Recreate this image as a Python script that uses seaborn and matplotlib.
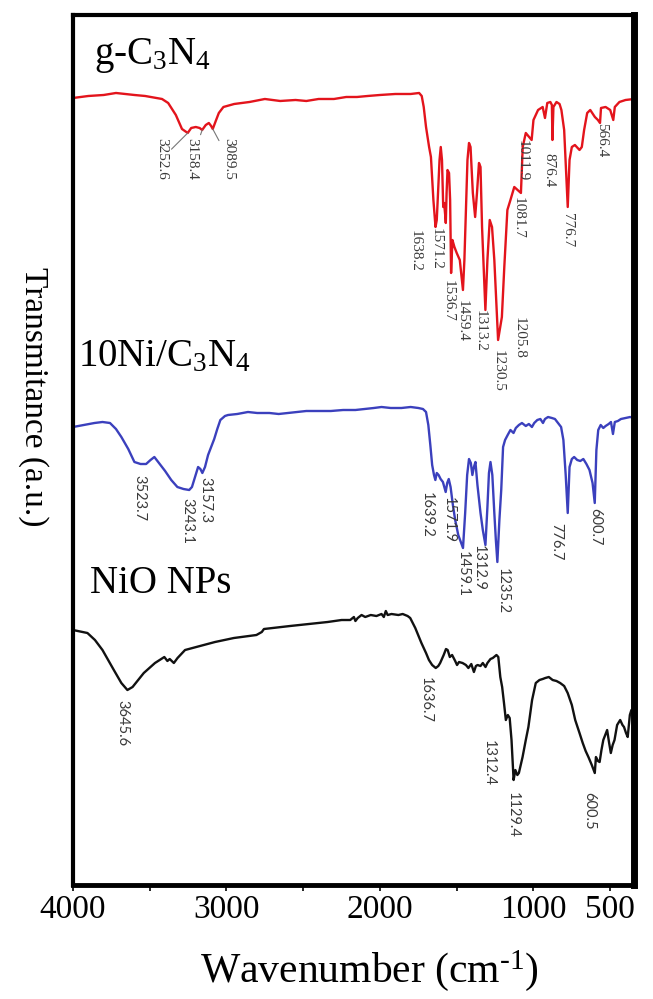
import numpy as np
import pandas as pd
import matplotlib
matplotlib.use("Agg")
import matplotlib.pyplot as plt
import seaborn as sns

# ---------------- FT-IR spectra (wavenumber in cm-1, stacked transmittance in a.u.) ----------------
WN_GCN = [4000, 3900, 3800, 3720, 3600, 3530, 3420, 3380, 3330, 3290, 3252.6, 3230, 3200, 3175,
          3158.4, 3135, 3115, 3100, 3089.5, 3070, 3050, 3020, 2950, 2850, 2750, 2650, 2550, 2480,
          2400, 2300, 2220, 2150, 2080, 2000, 1900, 1800, 1745, 1728, 1715, 1700, 1680, 1668, 1652,
          1638.2, 1630, 1620, 1612, 1604, 1596, 1588, 1582, 1578, 1574, 1571.2, 1566, 1560, 1550,
          1543, 1536.7, 1528, 1515, 1500, 1480, 1459.4, 1450, 1440, 1430, 1420, 1410, 1395, 1380,
          1368, 1355, 1345, 1335, 1313.2, 1300, 1285, 1270, 1255, 1230.5, 1205.8, 1190, 1170, 1150,
          1125, 1081.7, 1070, 1050, 1011.9, 1000, 970, 940, 925, 910, 890, 880, 876.4, 870, 850, 830,
          818, 800, 776.7, 765, 750, 730, 700, 685, 670, 650, 630, 600, 580, 566.4, 560, 530, 500,
          480, 470, 440, 400, 345]
T_GCN = [787, 789, 790, 792, 790, 789, 786, 782, 770, 756, 752, 757, 758, 757,
         755, 760, 762, 759, 756, 764, 772, 778, 781, 783, 786, 784, 785, 784,
         786, 786, 788, 788, 789, 790, 791, 791, 792, 789, 778, 758, 738, 728, 685,
         658, 665, 698, 725, 738, 725, 678, 682, 675, 668, 662, 692, 715, 712,
         685, 612, 645, 638, 632, 625, 595, 625, 675, 725, 742, 738, 692, 668,
         692, 722, 718, 658, 575, 625, 665, 658, 625, 545, 568, 618, 675, 685,
         698, 692, 738, 752, 745, 765, 775, 778, 767, 782, 783, 780, 745, 778, 783, 781,
         775, 755, 678, 725, 738, 740, 735, 738, 755, 772, 775, 768, 765, 762, 777, 778, 775,
         765, 778, 783, 785, 786]

WN_NI = [4000, 3930, 3860, 3808, 3759, 3720, 3685, 3640, 3600, 3560, 3523.7, 3495, 3470, 3440,
         3400, 3360, 3320, 3280, 3243.1, 3225, 3205, 3185, 3170, 3157.3, 3140, 3120, 3100, 3080,
         3060, 3040, 3010, 2990, 2930, 2860, 2800, 2720, 2660, 2600, 2540, 2480, 2400, 2320, 2240,
         2160, 2100, 2040, 1990, 1930, 1860, 1800, 1750, 1720, 1700, 1685, 1672, 1660, 1648,
         1639.2, 1630, 1618, 1605, 1590, 1571.9, 1562, 1552, 1540, 1525, 1510, 1490, 1459.1, 1445,
         1432, 1420, 1408, 1398, 1388, 1378, 1365, 1345, 1330, 1312.9, 1300, 1290, 1280, 1268,
         1255, 1245, 1235.2, 1222, 1210, 1198, 1185, 1168, 1150, 1130, 1115, 1095, 1075, 1050,
         1030, 1010, 995, 975, 955, 938, 925, 905, 880, 860, 840, 820, 805, 790, 776.7, 765, 750,
         735, 715, 695, 675, 655, 635, 615, 600.7, 590, 578, 562, 545, 530, 510, 495, 482, 470,
         450, 430, 400, 370, 345]
T_NI = [458, 460, 462, 463, 462, 456, 448, 436, 423, 421, 421, 425, 428, 422,
        414, 405, 398, 396, 395, 398, 408, 418, 416, 412, 418, 430, 438, 446,
        456, 465, 469, 470, 471, 473, 472, 472, 471, 472, 473, 474, 474, 474, 475,
        475, 476, 477, 478, 477, 477, 478, 477, 476, 473, 460, 440, 420, 410,
        405, 412, 410, 406, 403, 393, 402, 406, 398, 380, 365, 350, 337, 372,
        410, 426, 422, 410, 418, 423, 400, 372, 355, 340, 378, 412, 423, 410,
        372, 345, 323, 365, 395, 438, 445, 450, 455, 452, 457, 460, 462, 459,
        461, 458, 462, 465, 466, 462, 466, 468, 467, 466, 462, 458, 445, 410, 372, 418, 426,
        428, 425, 424, 426, 421, 415, 402, 382, 435, 455, 460, 457, 459, 461, 463, 451, 463,
        464, 466, 467, 468, 467]

WN_NIO = [4000, 3906, 3857, 3808, 3734, 3685, 3645.6, 3612, 3539, 3466, 3405, 3385, 3370, 3343,
          3319, 3270, 3197, 3075, 2952, 2805, 2770, 2756, 2586, 2341, 2250, 2194, 2170, 2160, 2145,
          2120, 2096, 2060, 2023, 1990, 1975, 1962, 1950, 1925, 1880, 1852, 1820, 1803, 1770, 1730,
          1700, 1681, 1660, 1636.7, 1620, 1608, 1585, 1570, 1559, 1545, 1530, 1510, 1498, 1485,
          1462, 1440, 1424, 1405, 1388, 1375, 1364, 1345, 1330, 1312.4, 1300, 1280, 1265, 1241,
          1229, 1216, 1204, 1192, 1180, 1167, 1155, 1143, 1129.4, 1118, 1105, 1095, 1071, 1050,
          1033, 1009, 985, 961, 940, 923, 900, 875, 850, 826, 800, 777, 750, 728, 700, 679, 660,
          642, 620, 600.5, 593, 580, 569, 557, 545, 520, 508, 496, 484, 472, 455, 435, 420, 410,
          397, 386, 372, 362, 345]
T_NIO = [255, 252, 245, 235, 215, 202, 195, 198, 212, 222, 228, 224, 226, 222,
         227, 235, 238, 243, 247, 250, 253, 256, 259, 263, 265, 265, 268, 264, 267,
         270, 268, 270, 269, 271, 268, 274, 270, 271, 270, 271, 269, 267, 257, 242,
         232, 225, 220, 217, 219, 222, 230, 236, 235, 228, 230, 224, 220, 223,
         222, 220, 217, 221, 213, 219, 220, 219, 222, 218, 222, 226, 227, 230,
         228, 208, 198, 182, 165, 170, 167, 145, 105, 115, 110, 112, 128, 145,
         158, 185, 202, 205, 206, 207, 208, 205, 204, 202, 199, 192, 180, 165, 152, 142, 134,
         128, 120, 112, 128, 124, 123, 135, 145, 155, 143, 132, 140, 145, 160, 165, 160, 158,
         152, 148, 170, 175, 168]

SAMPLES = ["g-C3N4", "10Ni/C3N4", "NiO NPs"]
SAMPLE_TITLES = ["g-C$_{3}$N$_{4}$", "10Ni/C$_{3}$N$_{4}$", "NiO NPs"]
COLORS = {"g-C3N4": "#e3141c", "10Ni/C3N4": "#3b40bd", "NiO NPs": "#111111"}

# Band positions marked on each spectrum (cm-1)
PEAKS_GCN = [3252.6, 3158.4, 3089.5, 1638.2, 1571.2, 1536.7, 1459.4, 1313.2, 1230.5, 1205.8,
             1081.7, 1011.9, 876.4, 776.7, 566.4]
PEAKS_NI = [3523.7, 3243.1, 3157.3, 1639.2, 1571.9, 1459.1, 1312.9, 1235.2, 776.7, 600.7]
PEAKS_NIO = [3645.6, 1636.7, 1312.4, 1129.4, 600.5]

XTICKS = [4000, 3000, 2000, 1000, 500]
XTICKS_MINOR = [3500, 2500, 1500]

# label placement relative to each band (pixels: right, down) and whether a leader line is drawn
OFFS_GCN = [(-26, 5, True), (-10, 8, True), (16, 9, True), (-20, 3, False), (-10, 5, False),
            (-3, 7, False), (-1, 10, False), (-5, 0, False), (0, 10, False), (17, 0, False),
            (-3, 4, False), (-9, 0, False), (-4, 13, False), (0, 6, False), (2, 0, False)]
OFFS_NI = [(-7, 11, False), (-2, 8, False), (3, 4, False), (-9, 12, False), (3, 5, False),
           (0, 3, False), (-7, 0, False), (5, 6, False), (-11, 10, False), (0, 5, False)]
OFFS_NIO = [(-5, 10, False), (-10, 9, False), (3, 73, False), (-1, 12, False), (-6, 19, False)]

# ---------------- style ----------------
sns.set_theme(style="white")
plt.rcParams["font.family"] = ["Liberation Serif", "DejaVu Serif"]
plt.rcParams["mathtext.fontset"] = "custom"
plt.rcParams["mathtext.rm"] = "Liberation Serif"
plt.rcParams["mathtext.it"] = "Liberation Serif:italic"
plt.rcParams["mathtext.bf"] = "Liberation Serif:bold"

DPI = 100
fig = plt.figure(figsize=(6.53, 9.99), dpi=DPI)
ax = fig.add_axes([0.1118, 0.1141, 0.8591, 0.8709])

df = pd.concat([
    pd.DataFrame({"wavenumber": WN_GCN, "transmittance": T_GCN, "sample": SAMPLES[0]}),
    pd.DataFrame({"wavenumber": WN_NI, "transmittance": T_NI, "sample": SAMPLES[1]}),
    pd.DataFrame({"wavenumber": WN_NIO, "transmittance": T_NIO, "sample": SAMPLES[2]}),
], ignore_index=True)

sns.lineplot(data=df, x="wavenumber", y="transmittance", hue="sample", palette=COLORS,
             estimator=None, sort=True, legend=False, linewidth=1.7, ax=ax)

ax.set_xlim(4000, 345)
ax.set_ylim(0, 870)
ax.set_yticks([])
ax.set_xticks(XTICKS)
ax.set_xticklabels([str(t) for t in XTICKS])
ax.set_xticks(XTICKS_MINOR, minor=True)
ax.tick_params(axis="x", which="both", direction="out", bottom=True, length=4.5, width=1.2,
               color="black", labelsize=24, pad=2, labelcolor="black")

for name, s in ax.spines.items():
    s.set_color("black")
    s.set_visible(True)
ax.spines["left"].set_linewidth(3.0)
ax.spines["top"].set_linewidth(3.0)
ax.spines["bottom"].set_linewidth(3.5)
ax.spines["right"].set_linewidth(5.0)

ax.set_xlabel("Wavenumber (cm$^{\u2010 1}$)", fontsize=30, color="black")
ax.xaxis.set_label_coords(0.529, -0.072)
ax.set_ylabel("Transmitance (a.u.)", fontsize=24, color="black", rotation=270)
ax.yaxis.label.set_verticalalignment("center")
ax.yaxis.label.set_horizontalalignment("center")
ax.yaxis.set_label_coords(-0.071, 0.561)

# sample names
title_pos = [(0.037, 0.944), (0.009, 0.596), (0.030, 0.336)]
for title, (tx, ty) in zip(SAMPLE_TITLES, title_pos):
    ax.text(tx, ty, title, transform=ax.transAxes, fontsize=28, color="black",
            ha="left", va="baseline")

# band labels
px2pt = 72.0 / DPI


def mark_bands(wn, tr, peaks, offsets, family, size):
    wn_a = np.asarray(wn, dtype=float)[::-1]
    tr_a = np.asarray(tr, dtype=float)[::-1]
    for p, (dx, dy, leader) in zip(peaks, offsets):
        y = np.interp(p, wn_a, tr_a)
        props = None
        if leader:
            props = dict(arrowstyle="-", color="#777777", lw=0.8, shrinkA=0, shrinkB=0)
        ax.annotate(f"{p:.1f}", xy=(p, y), xytext=(dx * px2pt, -dy * px2pt),
                    textcoords="offset points", rotation=270, ha="center", va="top",
                    fontsize=size, color="#3a3a3a", family=family, arrowprops=props)


mark_bands(WN_GCN, T_GCN, PEAKS_GCN, OFFS_GCN, ["Liberation Serif"], 11)
mark_bands(WN_NI, T_NI, PEAKS_NI, OFFS_NI, ["Lato", "DejaVu Sans"], 10.5)
mark_bands(WN_NIO, T_NIO, PEAKS_NIO, OFFS_NIO, ["Lato", "DejaVu Sans"], 10.5)

fig.savefig("out.png", dpi=DPI)
